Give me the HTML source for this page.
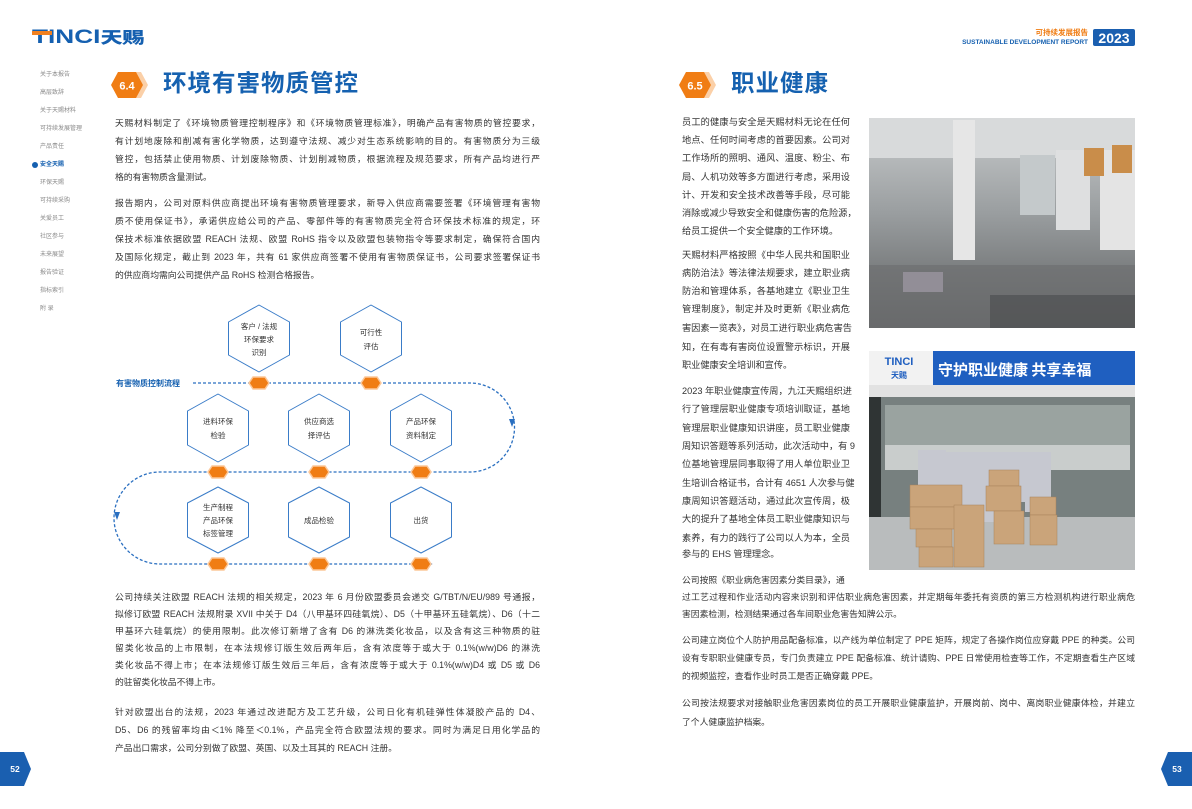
<!DOCTYPE html>
<html><head><meta charset="utf-8">
<style>
*{margin:0;padding:0;box-sizing:border-box}
body{width:1192px;height:809px;background:#fff;position:relative;overflow:hidden;font-family:"Liberation Sans","Noto Sans CJK SC",sans-serif;color:#333}
.abs{position:absolute}
.side{position:absolute;left:40px;font-size:6px;color:#8a8a8a;line-height:8px}
.ln{position:absolute;height:18px;line-height:18px;white-space:nowrap;text-align:justify;text-align-last:justify;font-size:8.8px;color:#333}
.ln.e{text-align-last:left}
.r{font-size:9.2px}
.title{position:absolute;font-size:23.5px;font-weight:bold;color:#1561b0;letter-spacing:1px;line-height:28px}
</style></head><body>

<!-- logo -->
<div class="abs" style="left:32px;top:27px;font-size:19px;font-weight:900;color:#1560b0;letter-spacing:0px;line-height:22px;transform:scaleX(1.38);transform-origin:left">TINCI<span style="font-size:16px">天赐</span></div>
<div class="abs" style="left:32px;top:31px;width:20px;height:4px;background:#f08020"></div>

<!-- sidebar -->
<div class="side" style="top:71px">关于本报告</div>
<div class="side" style="top:89px">高层致辞</div>
<div class="side" style="top:107px">关于天赐材料</div>
<div class="side" style="top:125px">可持续发展管理</div>
<div class="side" style="top:143px">产品责任</div>
<div class="abs" style="left:32px;top:162px;width:6px;height:6px;border-radius:50%;background:#1560b0"></div>
<div class="side" style="top:161px;color:#1560b0;font-weight:bold">安全天赐</div>
<div class="side" style="top:179px">环保天赐</div>
<div class="side" style="top:197px">可持续采购</div>
<div class="side" style="top:215px">关爱员工</div>
<div class="side" style="top:233px">社区参与</div>
<div class="side" style="top:251px">未来展望</div>
<div class="side" style="top:269px">报告验证</div>
<div class="side" style="top:287px">指标索引</div>
<div class="side" style="top:305px">附 录</div>

<svg class="abs" style="left:0;top:0" width="1192" height="809">
 <!-- badges -->
 <polygon points="121,72 141,72 148,85 141,98 121,98 114,85" fill="#fbd0a8"/>
 <polygon points="118,72 136,72 143,85 136,98 118,98 111,85" fill="#f07d14"/>
 <text x="127" y="89.5" font-size="11" font-weight="bold" fill="#fff" text-anchor="middle" font-family="Liberation Sans">6.4</text>
 <polygon points="689,72 709,72 716,85 709,98 689,98 682,85" fill="#fbd0a8"/>
 <polygon points="686,72 704,72 711,85 704,98 686,98 679,85" fill="#f07d14"/>
 <text x="695" y="89.5" font-size="11" font-weight="bold" fill="#fff" text-anchor="middle" font-family="Liberation Sans">6.5</text>
 <!-- page num -->
 <polygon points="0,752 24,752 31,769 24,786 0,786" fill="#1a5fb0"/>
 <text x="15" y="772" font-size="8.5" font-weight="bold" fill="#fff" text-anchor="middle" font-family="Liberation Sans">52</text>
 <polygon points="1192,752 1168,752 1161,769 1168,786 1192,786" fill="#1a5fb0"/>
 <text x="1177" y="772" font-size="8.5" font-weight="bold" fill="#fff" text-anchor="middle" font-family="Liberation Sans">53</text>
 <!-- 2023 box -->
 <rect x="1093" y="29" width="42" height="17" rx="2" fill="#1a5fb0"/>
 <text x="1114" y="43" font-size="14" font-weight="bold" fill="#fff" text-anchor="middle" font-family="Liberation Sans">2023</text>

 <!-- diagram path -->
 <path d="M193,383 H470 A44.5,44.5 0 0 1 470,472 H160 A46,46 0 0 0 160,564 H433" fill="none" stroke="#2a6fc0" stroke-width="1.3" stroke-dasharray="3,2"/>
 <polygon points="509,419 515,419 512,427" fill="#2a6fc0"/>
 <polygon points="114,512 120,512 117,520" fill="#2a6fc0"/>
 <g fill="#fff" stroke="#3a7cc8" stroke-width="1" stroke-linejoin="round">
  <polygon points="259,305 289.5,322 289.5,355 259,372 228.5,355 228.5,322"/>
  <polygon points="371,305 401.5,322 401.5,355 371,372 340.5,355 340.5,322"/>
  <polygon points="218,394 248.5,411 248.5,445 218,462 187.5,445 187.5,411"/>
  <polygon points="319,394 349.5,411 349.5,445 319,462 288.5,445 288.5,411"/>
  <polygon points="421,394 451.5,411 451.5,445 421,462 390.5,445 390.5,411"/>
  <polygon points="218,487 248.5,503 248.5,537 218,553 187.5,537 187.5,503"/>
  <polygon points="319,487 349.5,503 349.5,537 319,553 288.5,537 288.5,503"/>
  <polygon points="421,487 451.5,503 451.5,537 421,553 390.5,537 390.5,503"/>
 </g>
 <g fill="#f07d14" stroke="#fcc89a" stroke-width="1.5">
  <polygon points="253,377 265,377 269,383 265,389 253,389 249,383"/>
  <polygon points="365,377 377,377 381,383 377,389 365,389 361,383"/>
  <polygon points="212,466 224,466 228,472 224,478 212,478 208,472"/>
  <polygon points="313,466 325,466 329,472 325,478 313,478 309,472"/>
  <polygon points="415,466 427,466 431,472 427,478 415,478 411,472"/>
  <polygon points="212,558 224,558 228,564 224,570 212,570 208,564"/>
  <polygon points="313,558 325,558 329,564 325,570 313,570 309,564"/>
  <polygon points="415,558 427,558 431,564 427,570 415,570 411,564"/>
 </g>
 <g font-size="7.5" fill="#333" text-anchor="middle" font-family="Liberation Sans, Noto Sans CJK SC, sans-serif">
  <text x="259" y="329">客户 / 法规</text><text x="259" y="342">环保要求</text><text x="259" y="355">识别</text>
  <text x="371" y="335">可行性</text><text x="371" y="349">评估</text>
  <text x="218" y="424">进料环保</text><text x="218" y="438">检验</text>
  <text x="319" y="424">供应商选</text><text x="319" y="438">择评估</text>
  <text x="421" y="424">产品环保</text><text x="421" y="438">资料制定</text>
  <text x="218" y="510">生产制程</text><text x="218" y="523">产品环保</text><text x="218" y="536">标签管理</text>
  <text x="319" y="523">成品检验</text>
  <text x="421" y="523">出货</text>
 </g>
 <text x="116" y="386" font-size="8" font-weight="bold" fill="#1560b0" font-family="Liberation Sans, Noto Sans CJK SC, sans-serif">有害物质控制流程</text>

 <!-- photo 1 -->
 <defs>
  <linearGradient id="g1" x1="0" y1="0" x2="0" y2="1"><stop offset="0" stop-color="#c9cccd"/><stop offset="0.45" stop-color="#9a9ea0"/><stop offset="1" stop-color="#5c5e5f"/></linearGradient>
 </defs>
 <rect x="869" y="118" width="266" height="210" fill="url(#g1)"/>
 <rect x="869" y="118" width="266" height="40" fill="#d8dadb"/>
 <rect x="1020" y="155" width="35" height="60" fill="#c4c9cb"/>
 <rect x="1100" y="150" width="35" height="100" fill="#e4e4e4"/>
 <rect x="1056" y="150" width="34" height="80" fill="#dedfe0"/>
 <rect x="1084" y="148" width="20" height="28" fill="#c98d4a"/>
 <rect x="1112" y="145" width="20" height="28" fill="#c98d4a"/>
 <rect x="953" y="120" width="22" height="140" fill="#e6e6e6"/>
 <rect x="903" y="272" width="40" height="20" fill="#e8d8f0"/>
 <rect x="869" y="265" width="266" height="63" fill="#6d6f70" opacity="0.7"/>
 <rect x="990" y="295" width="145" height="33" fill="#4a4b4c" opacity="0.6"/>
 <!-- photo 2 -->
 <rect x="869" y="351" width="266" height="219" fill="#b9bcbd"/>
 <rect x="869" y="351" width="266" height="34" fill="#1f5fc0"/>
 <rect x="869" y="351" width="64" height="34" fill="#f2f2f2"/>
 <text x="899" y="365" font-size="11" font-weight="bold" fill="#1f5fc0" text-anchor="middle" font-family="Liberation Sans">TINCI</text>
 <text x="899" y="378" font-size="8" font-weight="bold" fill="#1f5fc0" text-anchor="middle" font-family="Noto Sans CJK SC, sans-serif">天赐</text>
 <text x="938" y="375" font-size="15" font-weight="bold" fill="#fff" font-family="Noto Sans CJK SC, sans-serif">守护职业健康  共享幸福</text>
 <rect x="869" y="385" width="266" height="12" fill="#e2e2e2"/>
 <rect x="869" y="397" width="266" height="120" fill="#77807f"/>
 <rect x="885" y="405" width="245" height="40" fill="#9aa3a0"/>
 <rect x="885" y="445" width="245" height="25" fill="#c9cdcc"/>
 <rect x="869" y="397" width="12" height="120" fill="#2f3434"/>
 <g fill="#c6c8d0"><rect x="918" y="450" width="28" height="50"/><rect x="946" y="452" width="26" height="60"/><rect x="972" y="452" width="28" height="70"/><rect x="1000" y="452" width="28" height="50"/><rect x="1025" y="452" width="26" height="60"/></g>
 <g fill="#caa47a" stroke="#a8825a" stroke-width="0.5">
  <rect x="910" y="485" width="52" height="22"/><rect x="910" y="507" width="56" height="22"/><rect x="916" y="529" width="36" height="18"/><rect x="919" y="547" width="34" height="20"/>
  <rect x="954" y="505" width="30" height="62"/><rect x="989" y="470" width="30" height="16"/><rect x="986" y="486" width="35" height="25"/><rect x="994" y="511" width="30" height="33"/><rect x="1030" y="497" width="26" height="18"/><rect x="1030" y="515" width="27" height="30"/>
 </g>
</svg>

<div class="abs" style="right:104px;top:28px;font-size:7.5px;color:#f07d14;font-weight:bold;line-height:9px;text-align:right">可持续发展报告</div>
<div class="abs" style="right:104px;top:38px;font-size:6.5px;color:#1560b0;font-weight:bold;line-height:9px;text-align:right;white-space:nowrap">SUSTAINABLE DEVELOPMENT REPORT</div>

<div class="title" style="left:163px;top:69px">环境有害物质管控</div>
<div class="title" style="left:731px;top:69px">职业健康</div>

<!-- left page text -->
<div class="ln" style="left:115px;width:425px;top:114px">天赐材料制定了《环境物质管理控制程序》和《环境物质管理标准》，明确产品有害物质的管控要求，</div>
<div class="ln" style="left:115px;width:425px;top:132px">有计划地废除和削减有害化学物质，达到遵守法规、减少对生态系统影响的目的。有害物质分为三级</div>
<div class="ln" style="left:115px;width:425px;top:150px">管控，包括禁止使用物质、计划废除物质、计划削减物质，根据流程及规范要求，所有产品均进行严</div>
<div class="ln e" style="left:115px;width:425px;top:168px">格的有害物质含量测试。</div>
<div class="ln" style="left:115px;width:425px;top:194px">报告期内，公司对原料供应商提出环境有害物质管理要求，新导入供应商需要签署《环境管理有害物</div>
<div class="ln" style="left:115px;width:425px;top:212px">质不使用保证书》，承诺供应给公司的产品、零部件等的有害物质完全符合环保技术标准的规定，环</div>
<div class="ln" style="left:115px;width:425px;top:230px">保技术标准依据欧盟 REACH 法规、欧盟 RoHS 指令以及欧盟包装物指令等要求制定，确保符合国内</div>
<div class="ln" style="left:115px;width:425px;top:248px">及国际化规定，截止到 2023 年，共有 61 家供应商签署不使用有害物质保证书，公司要求签署保证书</div>
<div class="ln e" style="left:115px;width:425px;top:266px">的供应商均需向公司提供产品 RoHS 检测合格报告。</div>

<div class="ln" style="left:115px;width:425px;top:588px">公司持续关注欧盟 REACH 法规的相关规定，2023 年 6 月份欧盟委员会递交 G/TBT/N/EU/989 号通报，</div>
<div class="ln" style="left:115px;width:425px;top:605px">拟修订欧盟 REACH 法规附录 XVII 中关于 D4（八甲基环四硅氧烷）、D5（十甲基环五硅氧烷）、D6（十二</div>
<div class="ln" style="left:115px;width:425px;top:622px">甲基环六硅氧烷）的使用限制。此次修订新增了含有 D6 的淋洗类化妆品，以及含有这三种物质的驻</div>
<div class="ln" style="left:115px;width:425px;top:639px">留类化妆品的上市限制，在本法规修订版生效后两年后，含有浓度等于或大于 0.1%(w/w)D6 的淋洗</div>
<div class="ln" style="left:115px;width:425px;top:656px">类化妆品不得上市；在本法规修订版生效后三年后，含有浓度等于或大于 0.1%(w/w)D4 或 D5 或 D6</div>
<div class="ln e" style="left:115px;width:425px;top:673px">的驻留类化妆品不得上市。</div>
<div class="ln" style="left:115px;width:425px;top:703px">针对欧盟出台的法规，2023 年通过改进配方及工艺升级，公司日化有机硅弹性体凝胶产品的 D4、</div>
<div class="ln" style="left:115px;width:425px;top:721px">D5、D6 的残留率均由＜1% 降至＜0.1%，产品完全符合欧盟法规的要求。同时为满足日用化学品的</div>
<div class="ln e" style="left:115px;width:425px;top:739px">产品出口需求，公司分别做了欧盟、英国、以及土耳其的 REACH 注册。</div>

<!-- right page text -->
<div class="ln r" style="left:682px;width:168px;top:113px">员工的健康与安全是天赐材料无论在任何</div>
<div class="ln r" style="left:682px;width:168px;top:131px">地点、任何时间考虑的首要因素。公司对</div>
<div class="ln r" style="left:682px;width:168px;top:149px">工作场所的照明、通风、温度、粉尘、布</div>
<div class="ln r" style="left:682px;width:168px;top:168px">局、人机功效等多方面进行考虑，采用设</div>
<div class="ln r" style="left:682px;width:168px;top:186px">计、开发和安全技术改善等手段，尽可能</div>
<div class="ln r" style="left:682px;width:168px;top:204px">消除或减少导致安全和健康伤害的危险源，</div>
<div class="ln r e" style="left:682px;width:168px;top:222px">给员工提供一个安全健康的工作环境。</div>

<div class="ln r" style="left:682px;width:168px;top:246px">天赐材料严格按照《中华人民共和国职业</div>
<div class="ln r" style="left:682px;width:168px;top:264px">病防治法》等法律法规要求，建立职业病</div>
<div class="ln r" style="left:682px;width:168px;top:282px">防治和管理体系，各基地建立《职业卫生</div>
<div class="ln r" style="left:682px;width:168px;top:300px">管理制度》，制定并及时更新《职业病危</div>
<div class="ln r" style="left:682px;width:168px;top:319px">害因素一览表》，对员工进行职业病危害告</div>
<div class="ln r" style="left:682px;width:168px;top:338px">知，在有毒有害岗位设置警示标识，开展</div>
<div class="ln r e" style="left:682px;width:168px;top:356px">职业健康安全培训和宣传。</div>

<div class="ln r" style="left:682px;width:168px;top:382px">2023 年职业健康宣传周，九江天赐组织进</div>
<div class="ln r" style="left:682px;width:168px;top:400px">行了管理层职业健康专项培训取证，基地</div>
<div class="ln r" style="left:682px;width:168px;top:419px">管理层职业健康知识讲座，员工职业健康</div>
<div class="ln r" style="left:682px;width:168px;top:437px">周知识答题等系列活动，此次活动中，有 9</div>
<div class="ln r" style="left:682px;width:168px;top:455px">位基地管理层同事取得了用人单位职业卫</div>
<div class="ln r" style="left:682px;width:168px;top:474px">生培训合格证书，合计有 4651 人次参与健</div>
<div class="ln r" style="left:682px;width:168px;top:492px">康周知识答题活动，通过此次宣传周，极</div>
<div class="ln r" style="left:682px;width:168px;top:510px">大的提升了基地全体员工职业健康知识与</div>
<div class="ln r" style="left:682px;width:168px;top:529px">素养，有力的践行了公司以人为本，全员</div>
<div class="ln r e" style="left:682px;width:168px;top:545px">参与的 EHS 管理理念。</div>

<div class="ln e" style="left:682px;width:453px;top:571px">公司按照《职业病危害因素分类目录》，通</div>
<div class="ln" style="left:682px;width:453px;top:588px">过工艺过程和作业活动内容来识别和评估职业病危害因素，并定期每年委托有资质的第三方检测机构进行职业病危</div>
<div class="ln e" style="left:682px;width:453px;top:605px">害因素检测，检测结果通过各车间职业危害告知牌公示。</div>
<div class="ln" style="left:682px;width:453px;top:631px">公司建立岗位个人防护用品配备标准，以产线为单位制定了 PPE 矩阵，规定了各操作岗位应穿戴 PPE 的种类。公司</div>
<div class="ln" style="left:682px;width:453px;top:649px">设有专职职业健康专员，专门负责建立 PPE 配备标准、统计请购、PPE 日常使用检查等工作，不定期查看生产区域</div>
<div class="ln e" style="left:682px;width:453px;top:667px">的视频监控，查看作业时员工是否正确穿戴 PPE。</div>
<div class="ln" style="left:682px;width:453px;top:694px">公司按法规要求对接触职业危害因素岗位的员工开展职业健康监护，开展岗前、岗中、离岗职业健康体检，并建立</div>
<div class="ln e" style="left:682px;width:453px;top:713px">了个人健康监护档案。</div>

</body></html>
